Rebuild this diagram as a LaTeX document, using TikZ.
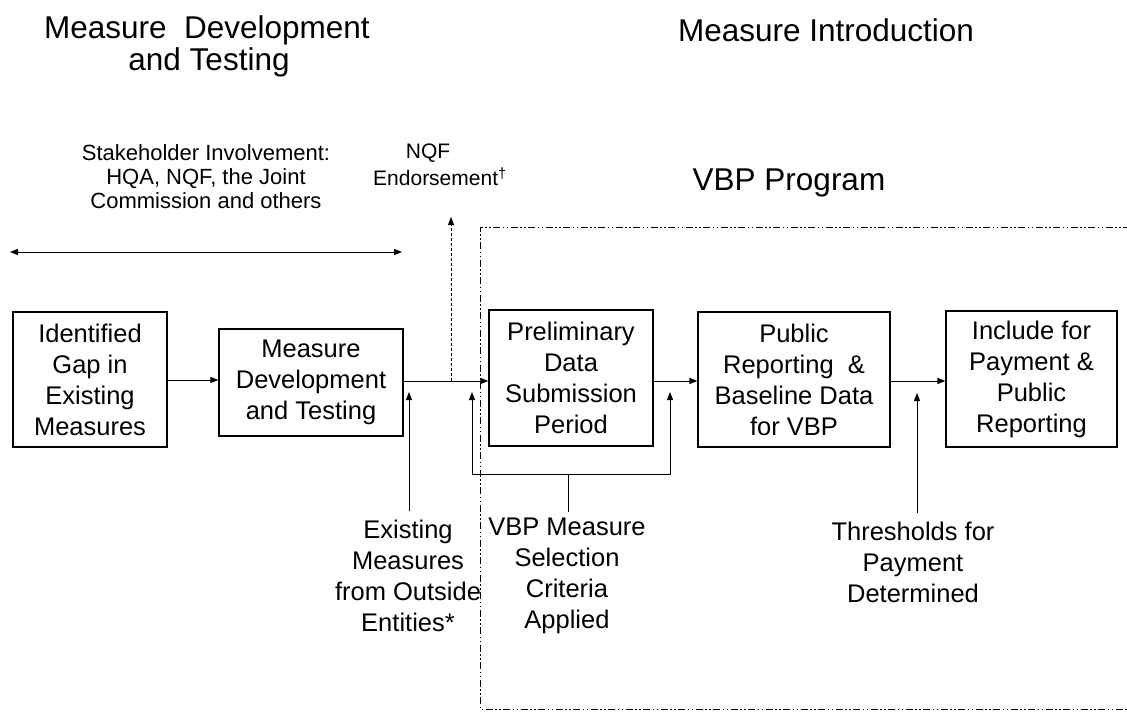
\documentclass[tikz,border=0pt]{standalone}
\usepackage{fontspec}
\setmainfont{Liberation Sans}
\usetikzlibrary{arrows.meta}
\begin{document}
\begin{tikzpicture}[x=1pt,y=-1pt,
  boxnode/.style={draw=black,line width=1.2pt,align=center,inner sep=0pt,
    font=\fontsize{25.5}{31}\selectfont},
  lbl/.style={align=center,inner sep=0pt,font=\fontsize{25.5}{31}\selectfont},
  smalllbl/.style={align=center,inner sep=0pt,font=\fontsize{22}{24}\selectfont},
  nqflbl/.style={inner sep=0pt,font=\fontsize{21}{24}\selectfont},
  titlelbl/.style={inner sep=0pt,font=\fontsize{31.5}{32}\selectfont},
  conn/.style={line width=1pt,-{Triangle[length=8pt,width=6pt]}},
  plain/.style={line width=1pt},
  dashdotdot/.style={line width=0.9pt,dash pattern=on 7pt off 2.5pt on 1.5pt off 2.5pt on 1.5pt off 2.5pt}]
\useasboundingbox (0,0) rectangle (1127,715);
\fill[white] (0,0) rectangle (1127,715);

% titles
\node[titlelbl] (t1a) at (207,30) {Measure\ \ Development};
\node[titlelbl] (t1b) at (209,62) {and Testing};
\node[titlelbl] (t2) at (826,30) {Measure Introduction};
\node[titlelbl] (t3) at (789,183) {VBP Program};

% small labels
\node[smalllbl] (stake) at (206,177) {Stakeholder Involvement:\\HQA, NQF, the Joint\\Commission and others};
\node[nqflbl] (nqf1) at (428,153) {NQF};
\node[nqflbl] (nqf2) at (440,177) {Endorsement\textsuperscript{\dag}};

% double arrow
\coordinate (dl) at (10,252);
\coordinate (dr) at (402,252);
\draw[line width=1pt,{Triangle[length=8pt,width=6pt]}-{Triangle[length=8pt,width=6pt]}] (dl) -- (dr);

% VBP region border
\coordinate (bt) at (1130,227);
\coordinate (btl) at (480,227);
\coordinate (bbl) at (480,709);
\coordinate (bb) at (1130,709);
\draw[dashdotdot] (bt) -- (btl) -- (bbl) -- (bb);

% boxes
\node[boxnode,minimum width=154pt,minimum height=135pt] (b1) at (90,379.5) {Identified\\Gap in\\Existing\\Measures};
\node[boxnode,minimum width=184pt,minimum height=107pt] (b2) at (311,382.5) {Measure\\Development\\and Testing};
\node[boxnode,minimum width=164pt,minimum height=136pt] (b3) at (571,378) {Preliminary\\Data\\Submission\\Period};
\node[boxnode,minimum width=192pt,minimum height=135pt] (b4) at (794,379.5) {Public\\Reporting\ \ \&\\Baseline Data\\for VBP};
\node[boxnode,minimum width=171pt,minimum height=136pt] (b5) at (1031.5,379) {Include for\\Payment \&\\Public\\Reporting};

% bottom labels
\node[lbl] (ex) at (408,576) {Existing\\Measures\\from Outside\\Entities*};
\node[lbl] (vbp) at (567,576) {VBP Measure\\Selection\\Criteria\\Applied};
\node[lbl] (thr) at (913,562) {Thresholds for\\Payment\\Determined};

% main flow
\draw[conn] (b1.east |- 0,380) -- (b2.west |- 0,380);
\draw[conn] (b2.east |- 0,381) -- (b3.west |- 0,381);
\draw[conn] (b3.east |- 0,381) -- (b4.west |- 0,381);
\draw[conn] (b4.east |- 0,381) -- (b5.west |- 0,381);

% NQF dashed arrow
\coordinate (nqfb) at (451,381);
\coordinate (nqft) at (451,217);
\draw[line width=0.9pt,dash pattern=on 3pt off 2pt,-{Triangle[length=8pt,width=6pt]}] (nqfb) -- (nqft);

% existing measures arrow
\coordinate (exs) at (409,511);
\coordinate (exe) at (409,392);
\draw[conn] (exs) -- (exe);

% selection bracket
\coordinate (vs) at (568,512);
\coordinate (vj) at (568,474);
\coordinate (vl) at (472,392);
\coordinate (vr) at (670,392);
\draw[plain] (vs) -- (vj);
\draw[conn] (vj) -| (vl);
\draw[conn] (vj) -| (vr);

% thresholds arrow
\coordinate (ts) at (917,513);
\coordinate (te) at (917,393);
\draw[conn] (ts) -- (te);
\end{tikzpicture}
\end{document}
